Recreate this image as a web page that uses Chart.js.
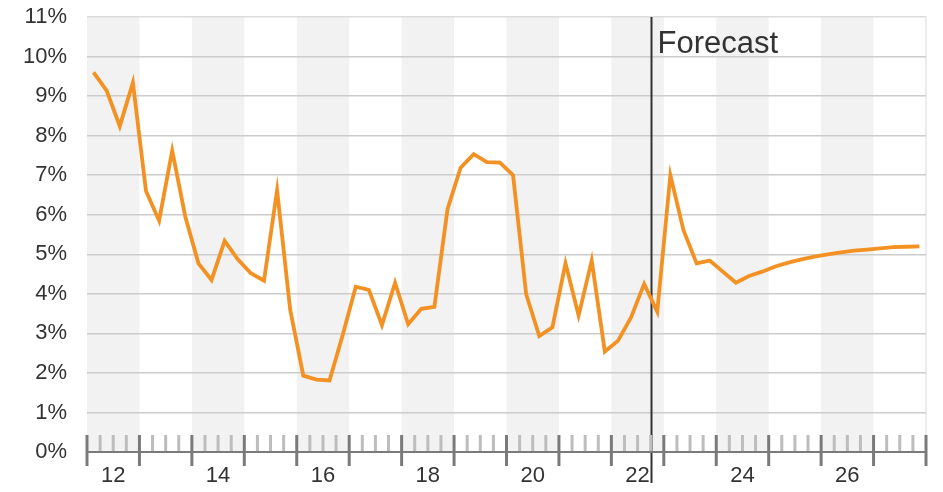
<!DOCTYPE html>
<html>
<head>
<meta charset="utf-8">
<script src="https://cdn.jsdelivr.net/npm/chart.js@4/dist/chart.umd.min.js"></script>
<style>
  html, body { margin: 0; padding: 0; background: #ffffff; }
  #wrap { width: 943px; height: 492px; }
</style>
</head>
<body>
<div id="wrap"><canvas id="c" width="943" height="492"></canvas></div>
<script>
// Quarterly values (%), 2012 Q1 .. 2027 Q4
const startYear = 2012;
const endYear = 2028;
const values = [
  9.60, 9.14, 8.24, 9.34,
  6.60, 5.85, 7.62, 5.95,
  4.77, 4.35, 5.34, 4.87,
  4.52, 4.33, 6.62, 3.60,
  1.93, 1.83, 1.81, 2.95,
  4.18, 4.10, 3.21, 4.28,
  3.23, 3.62, 3.67, 6.14,
  7.19, 7.53, 7.33, 7.32,
  7.00, 3.99, 2.93, 3.15,
  4.77, 3.45, 4.84, 2.54,
  2.81, 3.40, 4.25, 3.55,
  7.00, 5.61, 4.77, 4.84,
  4.56, 4.28, 4.45, 4.56,
  4.69, 4.79, 4.87, 4.94,
  5.00, 5.05, 5.09, 5.12,
  5.15, 5.18, 5.19, 5.20
];
const yearLabels = [2012, 2014, 2016, 2018, 2020, 2022, 2024, 2026];
const shadedYears = [2012, 2014, 2016, 2018, 2020, 2022, 2024, 2026];
const forecastStart = 2022.75;
const forecastLabel = 'Forecast';

const points = values.map((v, i) => ({ x: startYear + (i + 0.5) / 4, y: v }));

const FONT = '"Liberation Sans", Arial, Helvetica, sans-serif';
const TEXT = '#333333';

const decor = {
  id: 'decor',
  beforeDraw(chart) {
    const { ctx, chartArea, scales } = chart;
    const x = scales.x;
    ctx.save();
    ctx.fillStyle = '#f2f2f2';
    shadedYears.forEach(yr => {
      const a = x.getPixelForValue(yr), b = x.getPixelForValue(yr + 1);
      ctx.fillRect(a, chartArea.top, b - a, chartArea.bottom - chartArea.top + 1);
    });
    ctx.strokeStyle = '#e6e6e6';
    ctx.lineWidth = 1.5;
    ctx.beginPath();
    ctx.moveTo(chartArea.right, chartArea.top);
    ctx.lineTo(chartArea.right, chartArea.bottom);
    ctx.stroke();
    ctx.restore();
  },
  beforeDatasetsDraw(chart) {
    const { ctx, chartArea, scales } = chart;
    const x = scales.x;
    ctx.save();
    const fx = Math.round(x.getPixelForValue(forecastStart)) + 0.5;
    ctx.strokeStyle = '#333333';
    ctx.lineWidth = 2;
    ctx.beginPath();
    ctx.moveTo(fx, chartArea.top);
    ctx.lineTo(fx, chartArea.bottom + 31);
    ctx.stroke();
    ctx.fillStyle = TEXT;
    ctx.font = '31px ' + FONT;
    ctx.textBaseline = 'middle';
    ctx.textAlign = 'left';
    ctx.fillText(forecastLabel, fx + 6, chartArea.top + 27);
    ctx.restore();
  },
  afterDatasetsDraw(chart) {
    const { ctx, chartArea, scales } = chart;
    const x = scales.x;
    const base = chartArea.bottom;
    ctx.save();
    ctx.strokeStyle = '#bdbdbd';
    ctx.lineWidth = 3;
    for (let yr = startYear; yr < endYear; yr++) {
      for (let q = 1; q < 4; q++) {
        const px = x.getPixelForValue(yr + q / 4);
        ctx.beginPath();
        ctx.moveTo(px, base - 17);
        ctx.lineTo(px, base);
        ctx.stroke();
      }
    }
    ctx.strokeStyle = '#7a7a7a';
    ctx.lineWidth = 2;
    ctx.beginPath();
    ctx.moveTo(chartArea.left, base);
    ctx.lineTo(chartArea.right, base);
    ctx.stroke();
    ctx.lineWidth = 3;
    for (let yr = startYear; yr <= endYear; yr++) {
      const px = x.getPixelForValue(yr);
      ctx.beginPath();
      ctx.moveTo(px, base - 17);
      ctx.lineTo(px, base + 14);
      ctx.stroke();
    }
    ctx.restore();
  }
};

new Chart(document.getElementById('c'), {
  type: 'line',
  data: {
    datasets: [{
      data: points,
      borderColor: '#f39123',
      borderWidth: 3.8,
      pointRadius: 0,
      tension: 0,
      fill: false
    }]
  },
  options: {
    responsive: false,
    devicePixelRatio: 1,
    animation: false,
    layout: { padding: { left: 0, top: 17, right: 17, bottom: 0 } },
    plugins: { legend: { display: false }, tooltip: { enabled: false } },
    scales: {
      x: {
        type: 'linear',
        min: startYear,
        max: endYear,
        afterBuildTicks(scale) {
          scale.ticks = yearLabels.map(y => ({ value: y + 0.5 }));
        },
        afterFit(scale) { scale.height = 40; scale.paddingLeft = 0; scale.paddingRight = 0; },
        ticks: {
          autoSkip: false,
          maxRotation: 0,
          padding: 11,
          color: TEXT,
          font: { family: FONT, size: 22 },
          callback: v => String(Math.floor(v) % 100)
        },
        grid: { display: false, drawTicks: false },
        border: { display: false }
      },
      y: {
        min: 0,
        max: 11,
        afterFit(scale) { scale.width = 87; scale.paddingTop = 0; scale.paddingBottom = 0; },
        ticks: {
          stepSize: 1,
          padding: 20,
          color: TEXT,
          font: { family: FONT, size: 22 },
          callback: v => v + '%'
        },
        grid: {
          drawTicks: false,
          lineWidth: 1.5,
          color: ctx => ctx.tick && ctx.tick.value === 11 ? '#dcdcdc' : (ctx.tick && ctx.tick.value === 0 ? 'rgba(0,0,0,0)' : '#cccccc')
        },
        border: { display: false }
      }
    }
  },
  plugins: [decor]
});
</script>
</body>
</html>
